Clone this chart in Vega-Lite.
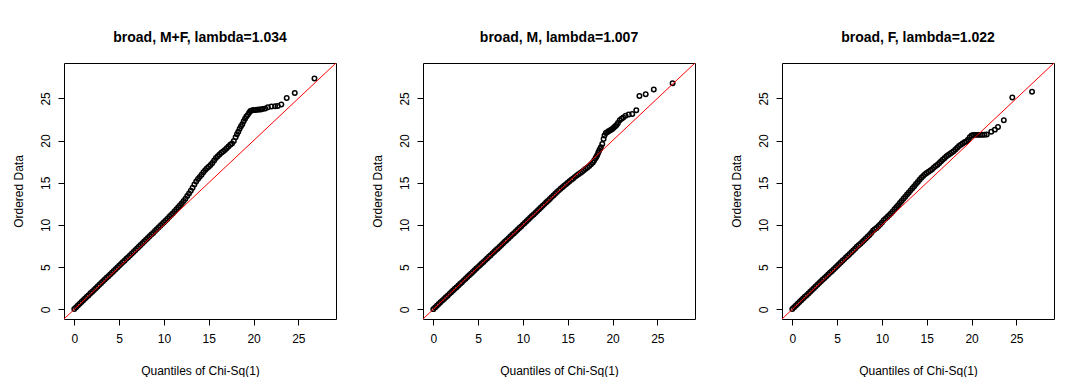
{
  "$schema": "https://vega.github.io/schema/vega-lite/v6.json",
  "background": "white",
  "padding": {"left": 11, "top": 30, "right": 0, "bottom": 0},
  "spacing": 33,
  "config": {
    "font": "Liberation Sans",
    "view": {"stroke": "black", "strokeWidth": 1},
    "axis": {
      "grid": false, "domain": false, "ticks": true, "tickColor": "black", "tickSize": 6,
      "labelFont": "Liberation Sans", "labelFontSize": 12, "labelColor": "black",
      "titleFont": "Liberation Sans", "titleFontSize": 12, "titleFontWeight": "normal", "titleColor": "black",
      "values": [0, 5, 10, 15, 20, 25]
    },
    "axisX": {"labelPadding": 8, "titlePadding": 21},
    "axisY": {"labelAngle": -90, "labelPadding": 6, "titlePadding": 14},
    "title": {"font": "Liberation Sans", "fontSize": 14, "fontWeight": "bold", "color": "black", "offset": 18, "anchor": "middle"}
  },
  "datasets": {
    "ref": [{"x": -5, "y": -5}, {"x": 35, "y": 35}],
    "mf": [
      {"x":0,"y":0.03},{"x":0.2,"y":0.25},{"x":0.4,"y":0.46},{"x":0.6,"y":0.66},{"x":0.8,"y":0.87},{"x":1.0,"y":1.07},{"x":1.2,"y":1.27},{"x":1.4,"y":1.48},{"x":1.6,"y":1.68},{"x":1.8,"y":1.89},
      {"x":2.0,"y":2.09},{"x":2.2,"y":2.30},{"x":2.4,"y":2.50},{"x":2.6,"y":2.71},{"x":2.8,"y":2.91},{"x":3.0,"y":3.12},{"x":3.2,"y":3.32},{"x":3.4,"y":3.53},{"x":3.6,"y":3.73},{"x":3.8,"y":3.93},
      {"x":4.0,"y":4.14},{"x":4.2,"y":4.34},{"x":4.4,"y":4.54},{"x":4.6,"y":4.75},{"x":4.8,"y":4.95},{"x":5.0,"y":5.16},{"x":5.2,"y":5.36},{"x":5.4,"y":5.57},{"x":5.6,"y":5.77},{"x":5.8,"y":5.98},
      {"x":6.0,"y":6.18},{"x":6.2,"y":6.39},{"x":6.4,"y":6.59},{"x":6.6,"y":6.80},{"x":6.8,"y":7.00},{"x":7.0,"y":7.21},{"x":7.2,"y":7.41},{"x":7.4,"y":7.62},{"x":7.6,"y":7.82},{"x":7.8,"y":8.03},
      {"x":8.0,"y":8.24},{"x":8.2,"y":8.44},{"x":8.4,"y":8.65},{"x":8.6,"y":8.86},{"x":8.8,"y":9.06},{"x":9.0,"y":9.27},{"x":9.2,"y":9.48},{"x":9.4,"y":9.69},{"x":9.6,"y":9.90},{"x":9.8,"y":10.10},
      {"x":10.0,"y":10.31},{"x":10.2,"y":10.52},{"x":10.4,"y":10.74},{"x":10.6,"y":10.96},{"x":10.8,"y":11.18},{"x":11.0,"y":11.40},{"x":11.2,"y":11.63},{"x":11.4,"y":11.86},{"x":11.6,"y":12.10},{"x":11.8,"y":12.34},
      {"x":12.0,"y":12.58},{"x":12.2,"y":12.85},{"x":12.4,"y":13.12},{"x":12.6,"y":13.42},{"x":12.8,"y":13.72},{"x":13.0,"y":14.05},{"x":13.2,"y":14.40},{"x":13.4,"y":14.80},{"x":13.6,"y":15.15},{"x":13.8,"y":15.45},
      {"x":14.0,"y":15.70},{"x":14.2,"y":15.95},{"x":14.4,"y":16.25},{"x":14.6,"y":16.50},{"x":14.8,"y":16.72},{"x":15.0,"y":16.90},{"x":15.2,"y":17.10},{"x":15.4,"y":17.35},{"x":15.6,"y":17.65},{"x":15.8,"y":17.95},
      {"x":16.0,"y":18.15},{"x":16.2,"y":18.35},{"x":16.4,"y":18.55},{"x":16.6,"y":18.72},{"x":16.8,"y":18.90},{"x":17.0,"y":19.10},{"x":17.2,"y":19.30},{"x":17.4,"y":19.50},{"x":17.6,"y":19.65},{"x":17.8,"y":19.95},
      {"x":18.0,"y":20.40},{"x":18.15,"y":20.75},{"x":18.3,"y":21.05},{"x":18.45,"y":21.40},{"x":18.6,"y":21.70},{"x":18.75,"y":21.95},{"x":18.9,"y":22.30},{"x":19.05,"y":22.60},{"x":19.2,"y":22.85},{"x":19.35,"y":23.05},
      {"x":19.5,"y":23.30},{"x":19.65,"y":23.50},{"x":19.8,"y":23.58},{"x":20.0,"y":23.62},{"x":20.2,"y":23.64},{"x":20.4,"y":23.66},{"x":20.6,"y":23.68},{"x":20.8,"y":23.70},{"x":21.0,"y":23.74},{"x":21.3,"y":23.80},
      {"x":21.6,"y":23.95},{"x":22.0,"y":24.05},{"x":22.4,"y":24.08},{"x":22.7,"y":24.10},{"x":23.1,"y":24.28},{"x":23.7,"y":25.05},{"x":24.6,"y":25.65},{"x":26.8,"y":27.35}
    ],
    "m": [
      {"x":0,"y":0.02},{"x":0.2,"y":0.22},{"x":0.4,"y":0.43},{"x":0.6,"y":0.62},{"x":0.8,"y":0.83},{"x":1.0,"y":1.03},{"x":1.2,"y":1.22},{"x":1.4,"y":1.43},{"x":1.6,"y":1.62},{"x":1.8,"y":1.83},
      {"x":2.0,"y":2.03},{"x":2.2,"y":2.22},{"x":2.4,"y":2.43},{"x":2.6,"y":2.62},{"x":2.8,"y":2.83},{"x":3.0,"y":3.03},{"x":3.2,"y":3.22},{"x":3.4,"y":3.43},{"x":3.6,"y":3.62},{"x":3.8,"y":3.83},
      {"x":4.0,"y":4.03},{"x":4.2,"y":4.22},{"x":4.4,"y":4.42},{"x":4.6,"y":4.62},{"x":4.8,"y":4.83},{"x":5.0,"y":5.03},{"x":5.2,"y":5.22},{"x":5.4,"y":5.42},{"x":5.6,"y":5.62},{"x":5.8,"y":5.83},
      {"x":6.0,"y":6.03},{"x":6.2,"y":6.22},{"x":6.4,"y":6.42},{"x":6.6,"y":6.63},{"x":6.8,"y":6.83},{"x":7.0,"y":7.03},{"x":7.2,"y":7.22},{"x":7.4,"y":7.42},{"x":7.6,"y":7.63},{"x":7.8,"y":7.83},
      {"x":8.0,"y":8.03},{"x":8.2,"y":8.23},{"x":8.4,"y":8.43},{"x":8.6,"y":8.63},{"x":8.8,"y":8.83},{"x":9.0,"y":9.03},{"x":9.2,"y":9.23},{"x":9.4,"y":9.43},{"x":9.6,"y":9.63},{"x":9.8,"y":9.83},
      {"x":10.0,"y":10.04},{"x":10.2,"y":10.24},{"x":10.4,"y":10.44},{"x":10.6,"y":10.64},{"x":10.8,"y":10.85},{"x":11.0,"y":11.05},{"x":11.2,"y":11.25},{"x":11.4,"y":11.45},{"x":11.6,"y":11.66},{"x":11.8,"y":11.86},
      {"x":12.0,"y":12.06},{"x":12.2,"y":12.27},{"x":12.4,"y":12.47},{"x":12.6,"y":12.68},{"x":12.8,"y":12.88},{"x":13.0,"y":13.09},{"x":13.2,"y":13.30},{"x":13.4,"y":13.50},{"x":13.6,"y":13.70},{"x":13.8,"y":13.90},
      {"x":14.0,"y":14.10},{"x":14.2,"y":14.30},{"x":14.4,"y":14.48},{"x":14.6,"y":14.66},{"x":14.8,"y":14.84},{"x":15.0,"y":15.00},{"x":15.2,"y":15.18},{"x":15.4,"y":15.35},{"x":15.6,"y":15.52},{"x":15.8,"y":15.70},
      {"x":16.0,"y":15.85},{"x":16.2,"y":16.00},{"x":16.4,"y":16.15},{"x":16.6,"y":16.30},{"x":16.8,"y":16.48},{"x":17.0,"y":16.65},{"x":17.2,"y":16.82},{"x":17.4,"y":17.00},{"x":17.6,"y":17.20},{"x":17.8,"y":17.40},
      {"x":17.95,"y":17.65},{"x":18.1,"y":17.90},{"x":18.2,"y":18.10},{"x":18.3,"y":18.30},{"x":18.4,"y":18.55},{"x":18.5,"y":18.80},{"x":18.6,"y":19.00},{"x":18.7,"y":19.20},{"x":18.85,"y":19.60},{"x":19.0,"y":20.20},
      {"x":19.1,"y":20.60},{"x":19.25,"y":20.90},{"x":19.4,"y":21.00},{"x":19.55,"y":21.10},{"x":19.7,"y":21.20},{"x":19.85,"y":21.30},{"x":20.0,"y":21.40},{"x":20.15,"y":21.55},{"x":20.3,"y":21.70},{"x":20.45,"y":21.85},
      {"x":20.6,"y":22.10},{"x":20.8,"y":22.40},{"x":21.0,"y":22.60},{"x":21.2,"y":22.75},{"x":21.45,"y":22.95},{"x":21.8,"y":23.10},{"x":22.2,"y":23.15},{"x":22.65,"y":23.60},{"x":23.0,"y":25.30},{"x":23.7,"y":25.50},
      {"x":24.6,"y":26.05},{"x":26.7,"y":26.80}
    ],
    "f": [
      {"x":0,"y":0.04},{"x":0.2,"y":0.25},{"x":0.4,"y":0.46},{"x":0.6,"y":0.66},{"x":0.8,"y":0.87},{"x":1.0,"y":1.07},{"x":1.2,"y":1.27},{"x":1.4,"y":1.48},{"x":1.6,"y":1.68},{"x":1.8,"y":1.88},
      {"x":2.0,"y":2.08},{"x":2.2,"y":2.29},{"x":2.4,"y":2.49},{"x":2.6,"y":2.70},{"x":2.8,"y":2.92},{"x":3.0,"y":3.13},{"x":3.2,"y":3.32},{"x":3.4,"y":3.52},{"x":3.6,"y":3.72},{"x":3.8,"y":3.92},
      {"x":4.0,"y":4.12},{"x":4.2,"y":4.32},{"x":4.4,"y":4.52},{"x":4.6,"y":4.73},{"x":4.8,"y":4.93},{"x":5.0,"y":5.14},{"x":5.2,"y":5.34},{"x":5.4,"y":5.55},{"x":5.6,"y":5.75},{"x":5.8,"y":5.95},
      {"x":6.0,"y":6.16},{"x":6.2,"y":6.36},{"x":6.4,"y":6.56},{"x":6.6,"y":6.77},{"x":6.8,"y":6.97},{"x":7.0,"y":7.18},{"x":7.2,"y":7.42},{"x":7.4,"y":7.60},{"x":7.6,"y":7.78},{"x":7.8,"y":7.98},
      {"x":8.0,"y":8.19},{"x":8.2,"y":8.39},{"x":8.4,"y":8.60},{"x":8.6,"y":8.80},{"x":8.8,"y":9.05},{"x":9.0,"y":9.30},{"x":9.2,"y":9.48},{"x":9.4,"y":9.65},{"x":9.6,"y":9.85},{"x":9.8,"y":10.05},
      {"x":10.0,"y":10.30},{"x":10.2,"y":10.55},{"x":10.4,"y":10.75},{"x":10.6,"y":10.95},{"x":10.8,"y":11.15},{"x":11.0,"y":11.35},{"x":11.2,"y":11.60},{"x":11.4,"y":11.85},{"x":11.6,"y":12.10},{"x":11.8,"y":12.35},
      {"x":12.0,"y":12.60},{"x":12.2,"y":12.85},{"x":12.4,"y":13.10},{"x":12.6,"y":13.35},{"x":12.8,"y":13.60},{"x":13.0,"y":13.85},{"x":13.2,"y":14.10},{"x":13.4,"y":14.35},{"x":13.6,"y":14.60},{"x":13.8,"y":14.85},
      {"x":14.0,"y":15.10},{"x":14.2,"y":15.35},{"x":14.4,"y":15.60},{"x":14.6,"y":15.80},{"x":14.8,"y":16.00},{"x":15.0,"y":16.15},{"x":15.2,"y":16.30},{"x":15.4,"y":16.45},{"x":15.6,"y":16.60},{"x":15.8,"y":16.80},
      {"x":16.0,"y":17.00},{"x":16.2,"y":17.15},{"x":16.4,"y":17.35},{"x":16.6,"y":17.55},{"x":16.8,"y":17.75},{"x":17.0,"y":17.95},{"x":17.2,"y":18.15},{"x":17.4,"y":18.30},{"x":17.6,"y":18.45},{"x":17.8,"y":18.60},
      {"x":18.0,"y":18.75},{"x":18.2,"y":18.95},{"x":18.4,"y":19.15},{"x":18.6,"y":19.35},{"x":18.8,"y":19.50},{"x":19.0,"y":19.65},{"x":19.2,"y":19.80},{"x":19.4,"y":19.90},{"x":19.6,"y":20.10},{"x":19.8,"y":20.40},
      {"x":20.0,"y":20.60},{"x":20.2,"y":20.66},{"x":20.4,"y":20.68},{"x":20.6,"y":20.68},{"x":20.8,"y":20.68},{"x":21.0,"y":20.68},{"x":21.2,"y":20.69},{"x":21.45,"y":20.70},{"x":21.7,"y":20.72},{"x":22.2,"y":21.05},
      {"x":22.6,"y":21.30},{"x":22.95,"y":21.60},{"x":23.6,"y":22.40},{"x":24.55,"y":25.10},{"x":26.75,"y":25.80}
    ]
  },
  "hconcat": [
    {
      "width": 272, "height": 256,
      "title": "broad, M+F, lambda=1.034",
      "layer": [
        {"data": {"name": "mf"}, "mark": {"type": "point", "shape": "circle", "filled": false, "color": "black", "size": 20, "strokeWidth": 1.5, "opacity": 1},
         "encoding": {
           "x": {"field": "x", "type": "quantitative", "scale": {"domain": [-1.15, 29.2], "nice": false, "zero": false}, "title": "Quantiles of Chi-Sq(1)"},
           "y": {"field": "y", "type": "quantitative", "scale": {"domain": [-1.15, 29.2], "nice": false, "zero": false}, "title": "Ordered Data"}}},
        {"data": {"name": "ref"}, "mark": {"type": "line", "color": "#ff0000", "strokeWidth": 1, "clip": true},
         "encoding": {"x": {"field": "x", "type": "quantitative"}, "y": {"field": "y", "type": "quantitative"}}}
      ]
    },
    {
      "width": 272, "height": 256,
      "title": "broad, M, lambda=1.007",
      "layer": [
        {"data": {"name": "m"}, "mark": {"type": "point", "shape": "circle", "filled": false, "color": "black", "size": 20, "strokeWidth": 1.5, "opacity": 1},
         "encoding": {
           "x": {"field": "x", "type": "quantitative", "scale": {"domain": [-1.15, 29.2], "nice": false, "zero": false}, "title": "Quantiles of Chi-Sq(1)"},
           "y": {"field": "y", "type": "quantitative", "scale": {"domain": [-1.15, 29.2], "nice": false, "zero": false}, "title": "Ordered Data"}}},
        {"data": {"name": "ref"}, "mark": {"type": "line", "color": "#ff0000", "strokeWidth": 1, "clip": true},
         "encoding": {"x": {"field": "x", "type": "quantitative"}, "y": {"field": "y", "type": "quantitative"}}}
      ]
    },
    {
      "width": 272, "height": 256,
      "title": "broad, F, lambda=1.022",
      "layer": [
        {"data": {"name": "f"}, "mark": {"type": "point", "shape": "circle", "filled": false, "color": "black", "size": 20, "strokeWidth": 1.5, "opacity": 1},
         "encoding": {
           "x": {"field": "x", "type": "quantitative", "scale": {"domain": [-1.15, 29.2], "nice": false, "zero": false}, "title": "Quantiles of Chi-Sq(1)"},
           "y": {"field": "y", "type": "quantitative", "scale": {"domain": [-1.15, 29.2], "nice": false, "zero": false}, "title": "Ordered Data"}}},
        {"data": {"name": "ref"}, "mark": {"type": "line", "color": "#ff0000", "strokeWidth": 1, "clip": true},
         "encoding": {"x": {"field": "x", "type": "quantitative"}, "y": {"field": "y", "type": "quantitative"}}}
      ]
    }
  ]
}
